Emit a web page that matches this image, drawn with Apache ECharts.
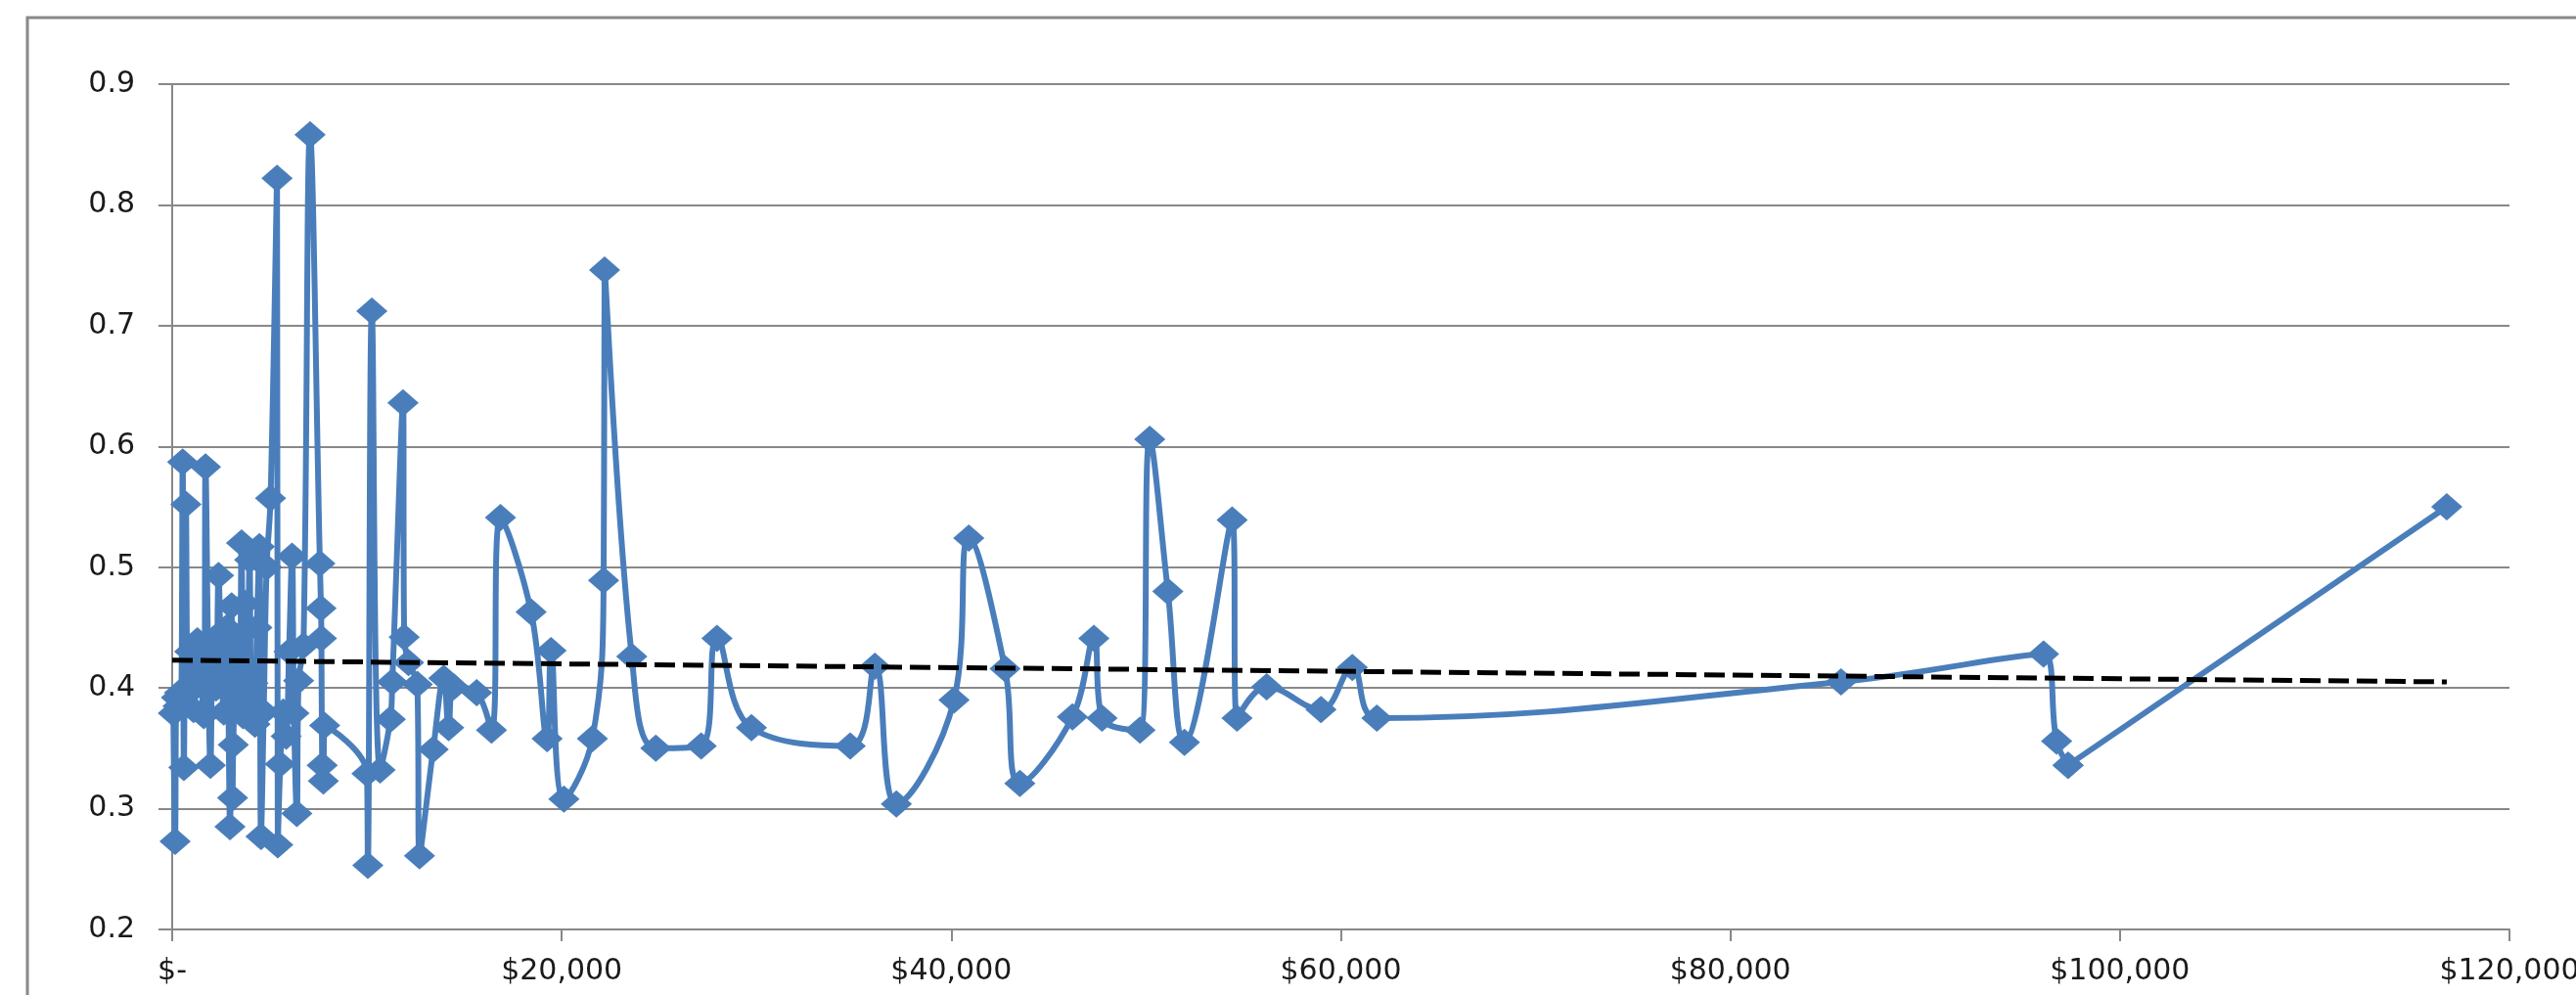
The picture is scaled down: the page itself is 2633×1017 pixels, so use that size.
<!DOCTYPE html>
<html><head><meta charset="utf-8">
<script src="https://cdn.jsdelivr.net/npm/echarts@6/dist/echarts.min.js"></script>
<style>html,body{margin:0;padding:0;background:#fff}#c{width:2633px;height:1017px}</style>
</head><body><div id="c"></div>
<script>
// Income (x) values
const incomeX = [
  60, 150, 220, 300, 380, 453, 538, 600, 704, 800, 900, 1000, 1100, 1291, 1450, 1627, 1711, 1850, 1962,
  2100, 2250, 2381, 2500, 2650, 2800, 2968, 3052, 3100, 3136, 3300, 3450, 3560, 3640, 3750, 3850, 3975,
  4060, 4143, 4250, 4350, 4478, 4560, 4700, 4850, 5050, 5383, 5420, 5550, 5700, 5850, 6000, 6153, 6250,
  6400, 6490, 6740, 7079, 7583, 7640, 7663, 7700, 7760, 7830,
  10000, 10045, 10250, 10674, 11200, 11300, 11850, 11910, 12135, 12584, 12697, 13400, 13943, 14196,
  14450, 15633, 16393, 16854, 18427, 19250, 19450, 20112, 21573, 22150, 22200, 23596, 24831, 27160,
  27970, 29740, 34810, 36080, 37180, 40140, 40900, 42760, 43520, 46220, 47320, 47740, 49690, 50190,
  51120, 51970, 54420, 54670, 56190, 58980, 60590, 61850, 85680, 96080, 96750, 97340, 116780
];
// Ratio (y) values
const ratioY = [
  0.379, 0.273, 0.392, 0.385, 0.396, 0.390, 0.587, 0.334, 0.552, 0.395, 0.430, 0.400, 0.382, 0.439, 0.410, 0.377, 0.583, 0.420, 0.336,
  0.440, 0.400, 0.493, 0.430, 0.380, 0.450, 0.285, 0.468, 0.309, 0.353, 0.440, 0.380, 0.520, 0.377, 0.470, 0.390, 0.506,
  0.400, 0.404, 0.370, 0.450, 0.517, 0.277, 0.380, 0.500, 0.557, 0.822, 0.270, 0.337, 0.380, 0.360, 0.430, 0.509, 0.379,
  0.296, 0.406, 0.435, 0.858, 0.503, 0.466, 0.441, 0.336, 0.323, 0.369,
  0.329, 0.253, 0.712, 0.332, 0.374, 0.405, 0.636, 0.442, 0.421, 0.403, 0.261, 0.349, 0.408, 0.367,
  0.401, 0.396, 0.365, 0.541, 0.463, 0.358, 0.431, 0.308, 0.358, 0.489, 0.746, 0.426, 0.350, 0.352,
  0.441, 0.367, 0.352, 0.418, 0.304, 0.390, 0.524, 0.416, 0.321, 0.376, 0.441, 0.375, 0.365, 0.606,
  0.480, 0.355, 0.539, 0.375, 0.401, 0.382, 0.417, 0.375, 0.405, 0.428, 0.356, 0.336, 0.550
];
// Linear trendline end points
const trendX = [0, 116780];
const trendY = [0.423, 0.405];
// Axis ticks
const xTicks = [0, 20000, 40000, 60000, 80000, 100000, 120000];
const yTicks = [0.2, 0.3, 0.4, 0.5, 0.6, 0.7, 0.8, 0.9];

const seriesData = incomeX.map((x, i) => [x, ratioY[i]]);
const trendData = trendX.map((x, i) => [x, trendY[i]]);
// the last segment in the picture is drawn straight
const smoothPart = seriesData.slice(0, -1);
const straightPart = seriesData.slice(-2);

const chart = echarts.init(document.getElementById('c'), null, {renderer: 'canvas'});
const labelFont = {fontFamily: 'DejaVu Sans', fontSize: 30, color: '#1a1a1a'};
const blue = '#4A7EBB';
chart.setOption({
  animation: false,
  backgroundColor: '#fff',
  graphic: [{
    type: 'rect', silent: true, z: -10,
    shape: {x: 28, y: 18, width: 2700, height: 1200},
    style: {fill: null, stroke: '#888888', lineWidth: 3}
  }],
  grid: {left: 176, right: 68, top: 86, bottom: 67, containLabel: false, outerBoundsMode: 'none'},
  xAxis: {
    type: 'value',
    min: xTicks[0], max: xTicks[xTicks.length - 1], interval: xTicks[1] - xTicks[0],
    axisLine: {show: true, lineStyle: {color: '#888888', width: 2}},
    axisTick: {show: true, length: 12, lineStyle: {color: '#888888', width: 2}},
    splitLine: {show: false},
    axisLabel: Object.assign({margin: 28, showMinLabel: true, showMaxLabel: true, hideOverlap: false,
      formatter: v => v === 0 ? '$-' : '$' + v.toLocaleString('en-US')}, labelFont)
  },
  yAxis: {
    type: 'value',
    min: yTicks[0], max: yTicks[yTicks.length - 1], interval: 0.1,
    axisLine: {show: true, lineStyle: {color: '#888888', width: 2}},
    axisTick: {show: true, length: 14, lineStyle: {color: '#888888', width: 2}},
    splitLine: {show: true, lineStyle: {color: '#888888', width: 2}},
    axisLabel: Object.assign({margin: 38, showMinLabel: true, showMaxLabel: true,
      formatter: v => v.toFixed(1)}, labelFont)
  },
  series: [{
    type: 'line',
    data: smoothPart,
    smooth: 0.4,
    symbol: 'diamond',
    symbolSize: [32, 28],
    showAllSymbol: true,
    itemStyle: {color: blue},
    lineStyle: {color: blue, width: 6},
    z: 2
  }, {
    type: 'line',
    data: straightPart,
    smooth: false,
    symbol: 'diamond',
    symbolSize: [32, 28],
    itemStyle: {color: blue},
    lineStyle: {color: blue, width: 6},
    z: 2
  }, {
    type: 'line',
    data: trendData,
    symbol: 'none',
    lineStyle: {color: '#000000', width: 5, type: [21, 8]},
    z: 5
  }]
});
</script></body></html>
